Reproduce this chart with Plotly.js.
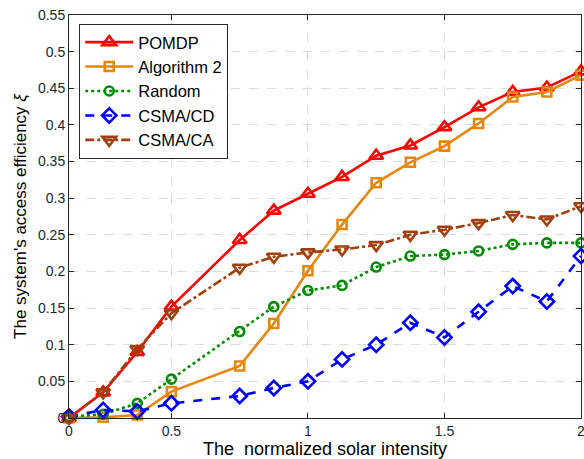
<!DOCTYPE html>
<html>
<head>
<meta charset="utf-8">
<script src="https://cdn.plot.ly/plotly-3.0.1.min.js"></script>
<style>html,body{margin:0;padding:0;background:#fff;}#chart{width:584px;height:459px;}</style>
</head>
<body>
<div id="chart"></div>
<script>
const xVals = [0.125, 0.25, 0.375, 0.5, 0.75, 0.875, 1.0, 1.125, 1.25, 1.375, 1.5, 1.625, 1.75, 1.875, 2.0];
const pomdp = [0.0, 0.035, 0.09, 0.152, 0.243, 0.283, 0.306, 0.329, 0.358, 0.372, 0.397, 0.424, 0.445, 0.451, 0.473];
const algorithm2 = [0.0, 0.001, 0.004, 0.036, 0.071, 0.129, 0.201, 0.264, 0.321, 0.349, 0.371, 0.402, 0.438, 0.445, 0.468];
const randomS = [0.002, 0.005, 0.02, 0.053, 0.118, 0.152, 0.174, 0.181, 0.206, 0.221, 0.223, 0.228, 0.237, 0.239, 0.239];
const csmaCD = [0.002, 0.011, 0.009, 0.02, 0.03, 0.041, 0.05, 0.08, 0.1, 0.13, 0.11, 0.145, 0.18, 0.159, 0.221];
const csmaCA = [0.0, 0.035, 0.094, 0.143, 0.205, 0.22, 0.226, 0.23, 0.236, 0.25, 0.257, 0.266, 0.277, 0.271, 0.289];
const seriesNames = ["POMDP", "Algorithm 2", "Random", "CSMA/CD", "CSMA/CA"];
const xTickVals = [0.125, 0.5, 1, 1.5, 2];
const xTickText = ["0", "0.5", "1", "1.5", "2"];
const yTickVals = [0, 0.05, 0.1, 0.15, 0.2, 0.25, 0.3, 0.35, 0.4, 0.45, 0.5, 0.55];
const yTickText = ["0", "0.05", "0.1", "0.15", "0.2", "0.25", "0.3", "0.35", "0.4", "0.45", "0.5", "0.55"];

function tr(y, name, color, dash, symbol, msize) {
  return {
    x: xVals, y: y, name: name, type: 'scatter', mode: 'lines+markers', cliponaxis: false,
    line: {color: color, width: 2.6, dash: dash},
    marker: {symbol: symbol, size: msize, color: color, line: {color: color, width: 2.6}}
  };
}
const data = [
  tr(pomdp, seriesNames[0], '#ff0000', 'solid', 'triangle-up-open', 12),
  tr(algorithm2, seriesNames[1], '#e3870f', 'solid', 'square-open', 9),
  tr(randomS, seriesNames[2], '#008a00', 'dot', 'circle-open', 9),
  tr(csmaCD, seriesNames[3], '#0000ff', 'dash', 'diamond-open', 11),
  tr(csmaCA, seriesNames[4], '#a0400f', 'dashdot', 'triangle-down-open', 12)
];
const font = {family: 'Liberation Sans, Arial, sans-serif', color: '#262626'};
const layout = {
  width: 584, height: 459,
  margin: {l: 69, r: 3, t: 15, b: 41},
  paper_bgcolor: '#fff', plot_bgcolor: '#fff',
  font: font,
  showlegend: true,
  legend: {
    x: 0.02, y: 0.978, xanchor: 'left', yanchor: 'top',
    bgcolor: '#fff', bordercolor: '#262626', borderwidth: 1,
    font: {family: 'Liberation Sans, Arial, sans-serif', size: 16.5, color: '#000'},
    tracegroupgap: 0, itemwidth: 48
  },
  xaxis: {
    range: [0.125, 2], tickvals: xTickVals, ticktext: xTickText,
    ticklabeloverflow: 'allow',
    showgrid: true, gridcolor: '#dcdcdc', griddash: 'dash', gridwidth: 1,
    ticks: 'inside', ticklen: 5, tickcolor: '#262626',
    showline: true, linecolor: '#262626', linewidth: 1, mirror: 'ticks',
    zeroline: false,
    tickfont: {size: 14, color: '#262626'},
    title: {text: 'The\u00a0 normalized solar intensity', font: {size: 18, color: '#000'}, standoff: 2}
  },
  yaxis: {
    range: [0, 0.55], tickvals: yTickVals, ticktext: yTickText,
    showgrid: true, gridcolor: '#dcdcdc', griddash: 'dash', gridwidth: 1,
    ticks: 'inside', ticklen: 5, tickcolor: '#262626',
    showline: true, linecolor: '#262626', linewidth: 1, mirror: 'ticks',
    zeroline: false,
    tickfont: {size: 14, color: '#262626'},
    title: {text: "The system's access efficiency <i>ξ</i>", font: {size: 17, color: '#000'}, standoff: 7}
  }
};
Plotly.newPlot('chart', data, layout, {displayModeBar: false, staticPlot: true});
</script>
</body>
</html>
